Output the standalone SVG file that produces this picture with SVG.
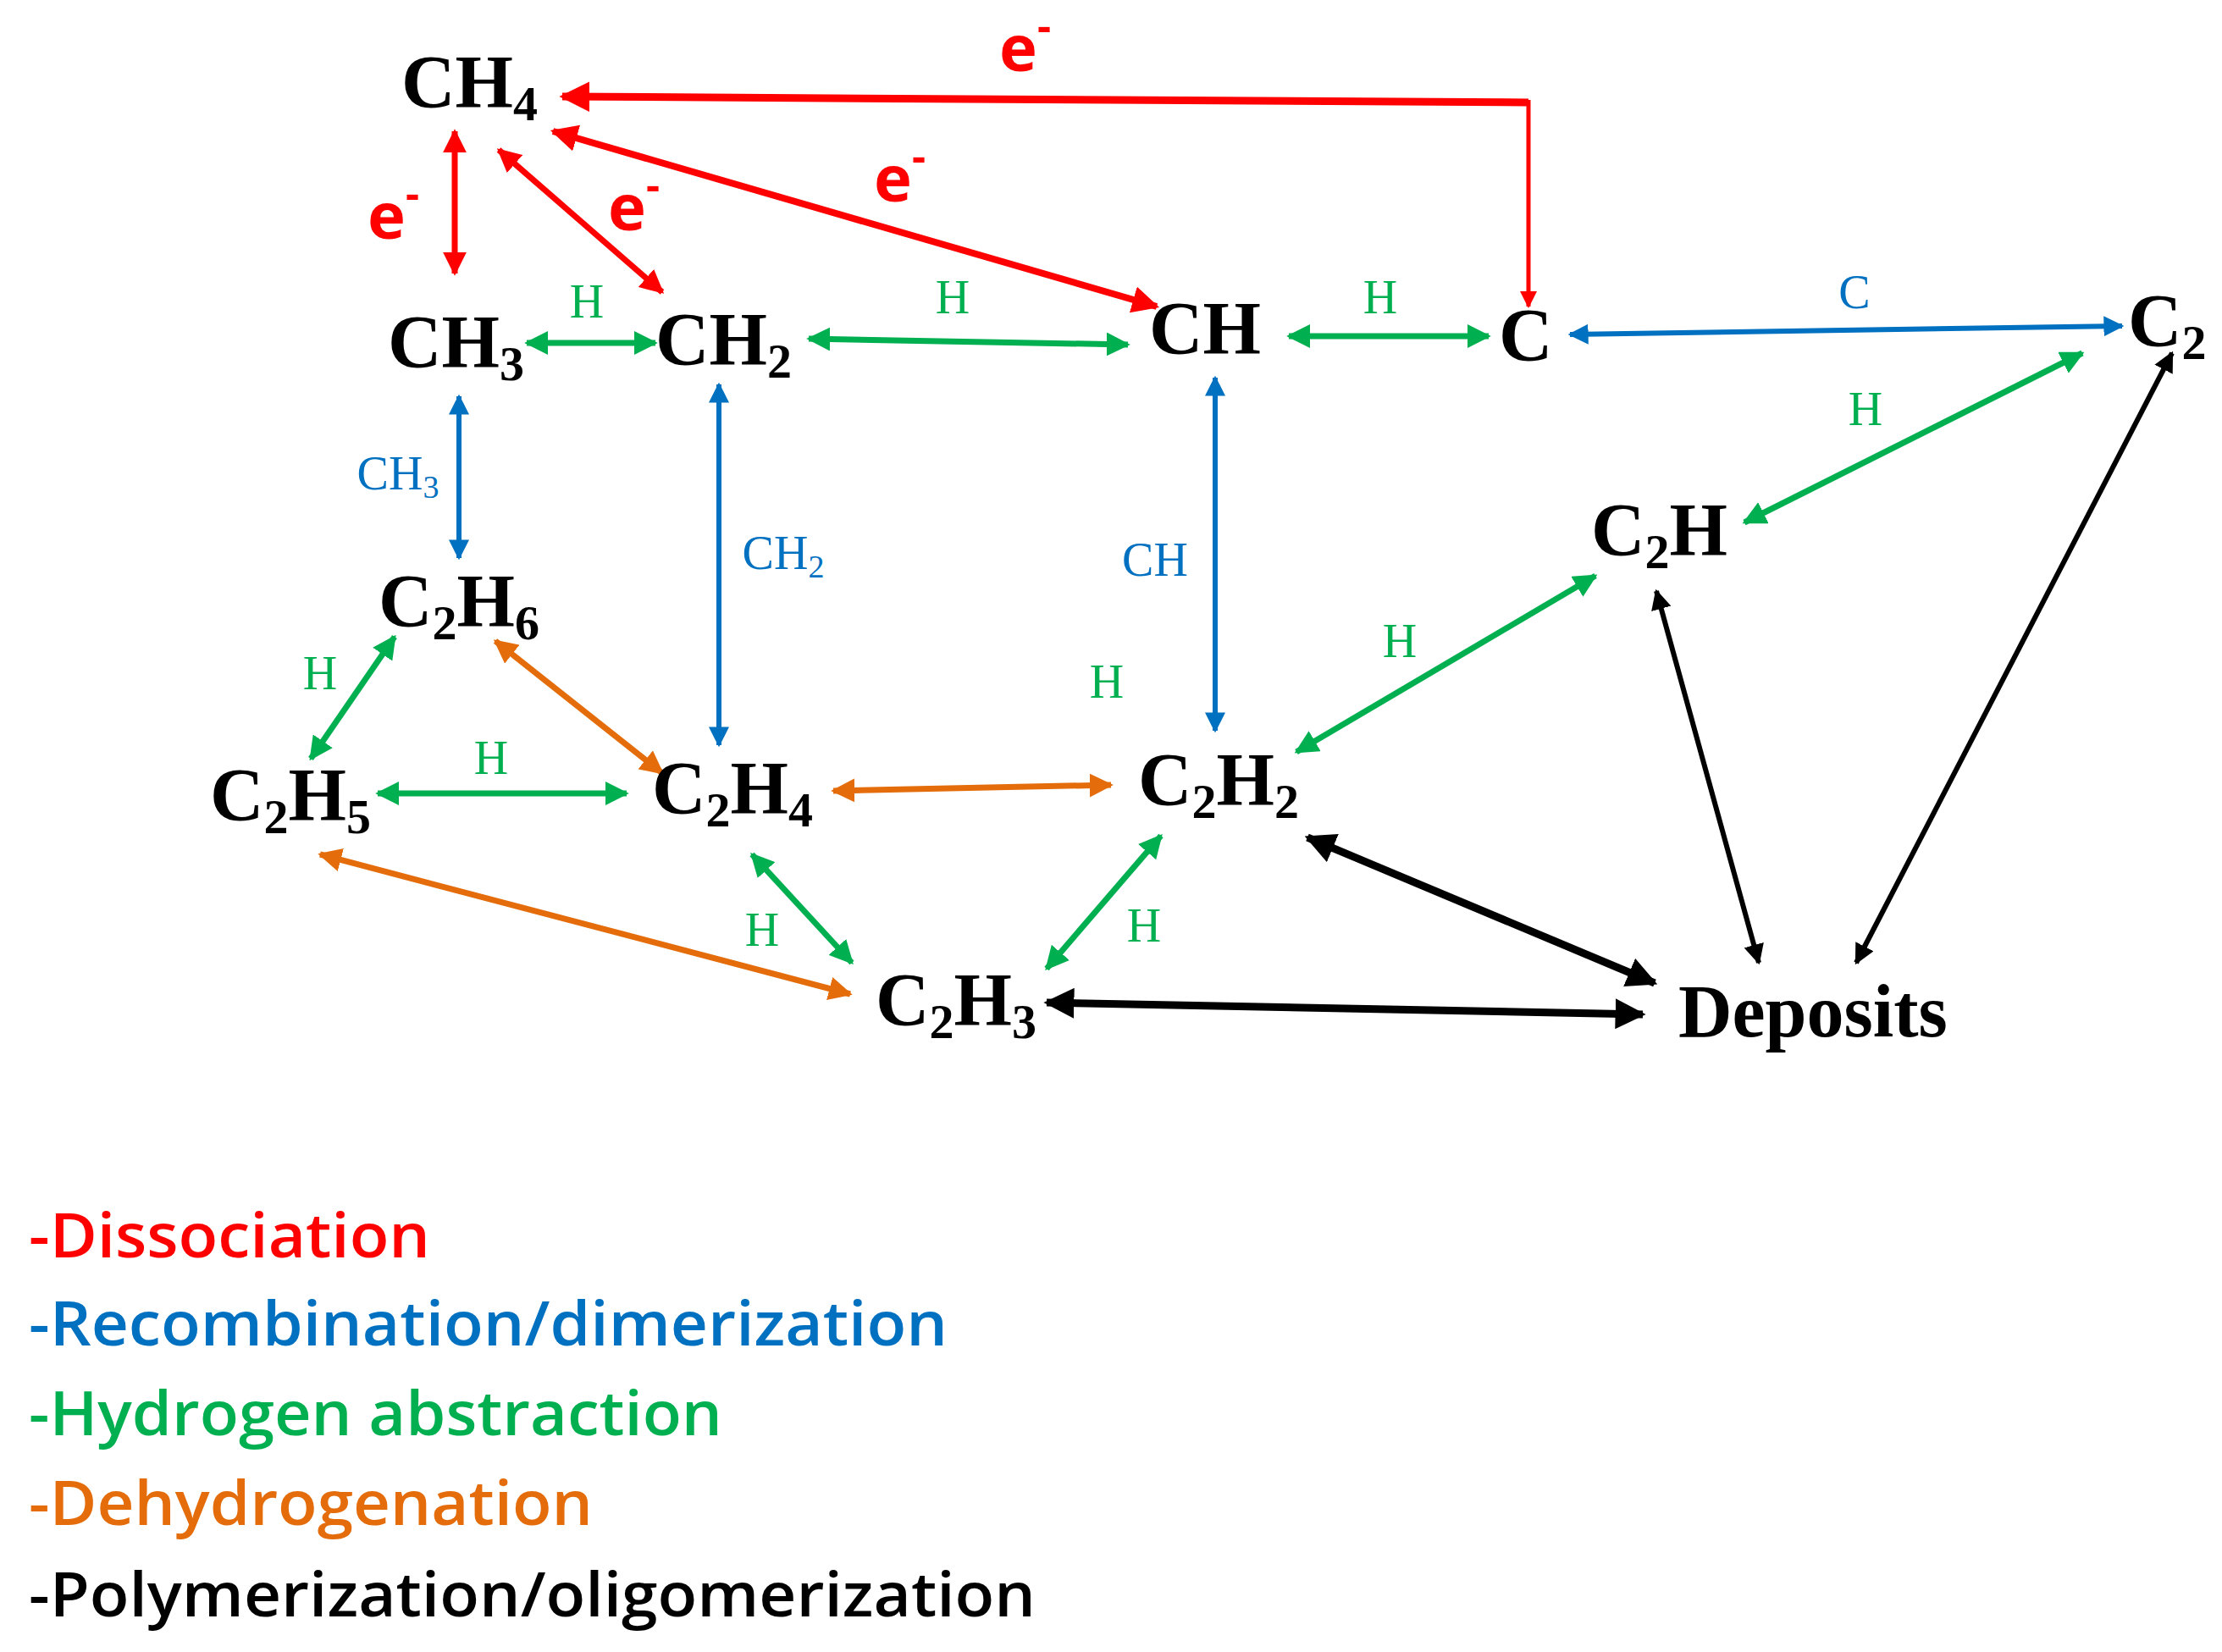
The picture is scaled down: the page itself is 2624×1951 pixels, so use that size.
<svg xmlns="http://www.w3.org/2000/svg" width="2624" height="1951" viewBox="0 0 2624 1951">
<defs>
<marker id="mr" viewBox="0 0 4 4" refX="3.6" refY="2" markerWidth="4" markerHeight="4" orient="auto-start-reverse" markerUnits="strokeWidth"><path d="M0,0 L4,2 L0,4 z" fill="#FF0000"/></marker>
<marker id="mg" viewBox="0 0 4 4" refX="3.6" refY="2" markerWidth="4" markerHeight="4" orient="auto-start-reverse" markerUnits="strokeWidth"><path d="M0,0 L4,2 L0,4 z" fill="#00B050"/></marker>
<marker id="mb" viewBox="0 0 4 4" refX="3.6" refY="2" markerWidth="4" markerHeight="4" orient="auto-start-reverse" markerUnits="strokeWidth"><path d="M0,0 L4,2 L0,4 z" fill="#0070C0"/></marker>
<marker id="mo" viewBox="0 0 4 4" refX="3.6" refY="2" markerWidth="4" markerHeight="4" orient="auto-start-reverse" markerUnits="strokeWidth"><path d="M0,0 L4,2 L0,4 z" fill="#E46C0A"/></marker>
<marker id="mk" viewBox="0 0 4 4" refX="3.6" refY="2" markerWidth="4" markerHeight="4" orient="auto-start-reverse" markerUnits="strokeWidth"><path d="M0,0 L4,2 L0,4 z" fill="#000000"/></marker>
</defs>
<style>
.n{font-family:"Liberation Serif","Times New Roman",serif;font-weight:bold;font-size:88px;fill:#000}
.s{font-size:58px}
.lab{font-family:"Liberation Serif","Times New Roman",serif;font-size:56px;text-anchor:middle}
.lg{fill:#00B050}.lb{fill:#0070C0}
.e{font-family:"Open Sans","Liberation Sans",sans-serif;font-weight:bold;font-size:76px;fill:#FF0000}
.r{stroke:#FF0000;fill:none;marker-start:url(#mr);marker-end:url(#mr)}
.g{stroke:#00B050;stroke-width:7;fill:none;marker-start:url(#mg);marker-end:url(#mg)}
.b{stroke:#0070C0;stroke-width:6;fill:none;marker-start:url(#mb);marker-end:url(#mb)}
.o{stroke:#E46C0A;stroke-width:7;fill:none;marker-start:url(#mo);marker-end:url(#mo)}
.k{stroke:#000;fill:none;marker-start:url(#mk);marker-end:url(#mk)}
.leg{font-family:"Open Sans","Liberation Sans",sans-serif;font-weight:600;font-size:72px}
</style>
<rect width="2624" height="1951" fill="#fff"/>
<g id="connectors">
<path d="M664,114 L1805,121" class="r" stroke-width="9" style="marker-end:none"/>
<path d="M1805,118 L1805,362" class="r" stroke-width="5" style="marker-start:none"/>
<path d="M653,155 L1366,362" class="r" stroke-width="8"/>
<path d="M537,155 L537,323" class="r" stroke-width="7"/>
<path d="M589,177 L782,345" class="r" stroke-width="7"/>
<path d="M622,405 L774,405" class="g"/>
<path d="M955,400 L1332,407" class="g"/>
<path d="M1522,397 L1758,397" class="g"/>
<path d="M2459,417 L2060,617" class="g"/>
<path d="M1884,680 L1531,888" class="g"/>
<path d="M466,752 L367,896" class="g"/>
<path d="M446,937 L740,937" class="g"/>
<path d="M888,1009 L1006,1137" class="g"/>
<path d="M1371,987 L1236,1144" class="g"/>
<path d="M542,468 L542,659" class="b"/>
<path d="M849,454 L849,880" class="b"/>
<path d="M1435,446 L1435,863" class="b"/>
<path d="M1854,395 L2506,385" class="b"/>
<path d="M585,757 L782,913" class="o"/>
<path d="M984,934 L1312,927" class="o"/>
<path d="M378,1009 L1004,1174" class="o"/>
<path d="M1236,1184 L1940,1198" class="k" stroke-width="9"/>
<path d="M1544,989 L1954,1161" class="k" stroke-width="9"/>
<path d="M1956,698 L2077,1137" class="k" stroke-width="6"/>
<path d="M2565,417 L2192,1137" class="k" stroke-width="6"/>
</g>
<g id="edge-labels">
<text class="e" x="1180" y="84">e<tspan dy="-36" font-size="50">-</tspan></text>
<text class="e" x="1032" y="238">e<tspan dy="-36" font-size="50">-</tspan></text>
<text class="e" x="434" y="282">e<tspan dy="-36" font-size="50">-</tspan></text>
<text class="e" x="718" y="272">e<tspan dy="-36" font-size="50">-</tspan></text>
<text class="lab lg" x="693" y="375">H</text>
<text class="lab lg" x="1125" y="370">H</text>
<text class="lab lg" x="1630" y="370">H</text>
<text class="lab lg" x="2203" y="502">H</text>
<text class="lab lg" x="1653" y="776">H</text>
<text class="lab lg" x="378" y="814">H</text>
<text class="lab lg" x="580" y="914">H</text>
<text class="lab lg" x="900" y="1117">H</text>
<text class="lab lg" x="1351" y="1112">H</text>
<text class="lab lg" x="1307" y="824">H</text>
<text class="lab lb" x="470" y="578">CH<tspan font-size="38" dy="10">3</tspan></text>
<text class="lab lb" x="925" y="672">CH<tspan font-size="38" dy="10">2</tspan></text>
<text class="lab lb" x="1364" y="680">CH</text>
<text class="lab lb" x="2190" y="364">C</text>
</g>
<g id="CH4"><text class="n" x="474" y="126">CH<tspan class="s" dy="16">4</tspan></text></g>
<g id="CH3"><text class="n" x="458" y="433">CH<tspan class="s" dy="16">3</tspan></text></g>
<g id="CH2"><text class="n" x="774" y="430">CH<tspan class="s" dy="16">2</tspan></text></g>
<g id="CH"><text class="n" x="1357" y="417">CH</text></g>
<g id="C"><text class="n" x="1770" y="425">C</text></g>
<g id="C2"><text class="n" x="2513" y="408">C<tspan class="s" dy="16">2</tspan></text></g>
<g id="C2H"><text class="n" x="1879" y="655">C<tspan class="s" dy="16">2</tspan><tspan dy="-16">H</tspan></text></g>
<g id="C2H6"><text class="n" x="447" y="739">C<tspan class="s" dy="16">2</tspan><tspan dy="-16">H</tspan><tspan class="s" dy="16">6</tspan></text></g>
<g id="C2H5"><text class="n" x="248" y="968">C<tspan class="s" dy="16">2</tspan><tspan dy="-16">H</tspan><tspan class="s" dy="16">5</tspan></text></g>
<g id="C2H4"><text class="n" x="770" y="960">C<tspan class="s" dy="16">2</tspan><tspan dy="-16">H</tspan><tspan class="s" dy="16">4</tspan></text></g>
<g id="C2H2"><text class="n" x="1344" y="950">C<tspan class="s" dy="16">2</tspan><tspan dy="-16">H</tspan><tspan class="s" dy="16">2</tspan></text></g>
<g id="C2H3"><text class="n" x="1034" y="1210">C<tspan class="s" dy="16">2</tspan><tspan dy="-16">H</tspan><tspan class="s" dy="16">3</tspan></text></g>
<g id="Deposits"><text class="n" x="1982" y="1224">Deposits</text></g>
<g id="legend">
<text class="leg" x="34" y="1485" fill="#FF0000" textLength="474" lengthAdjust="spacingAndGlyphs">-Dissociation</text>
<text class="leg" x="34" y="1589" fill="#0070C0" textLength="1085" lengthAdjust="spacingAndGlyphs">-Recombination/dimerization</text>
<text class="leg" x="34" y="1695" fill="#00B050" textLength="819" lengthAdjust="spacingAndGlyphs">-Hydrogen abstraction</text>
<text class="leg" x="34" y="1801" fill="#E46C0A" textLength="666" lengthAdjust="spacingAndGlyphs">-Dehydrogenation</text>
<text class="leg" x="34" y="1909" fill="#000000" textLength="1189" lengthAdjust="spacingAndGlyphs">-Polymerization/oligomerization</text>
</g>
</svg>
